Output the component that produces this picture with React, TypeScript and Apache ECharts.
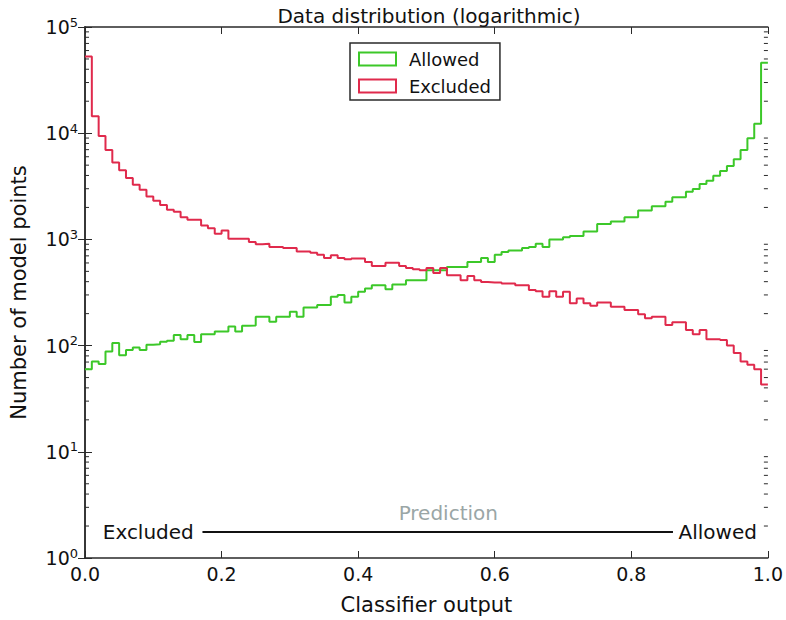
import React, { useEffect, useRef } from "react";
import * as echarts from "echarts";

const binEdges: number[] = Array.from({ length: 101 }, (_, i) => i / 100);

const allowedCounts: number[] = [
  60, 71, 67, 88, 106, 81, 91, 96, 91, 102,
  103, 109, 111, 126, 115, 126, 108, 128, 128, 136,
  136, 151, 136, 154, 155, 187, 187, 168, 187, 187,
  208, 187, 228, 228, 241, 241, 288, 299, 255, 288,
  321, 345, 370, 370, 340, 376, 376, 412, 412, 412,
  512, 512, 512, 550, 550, 550, 612, 612, 668, 612,
  718, 761, 788, 788, 830, 847, 910, 847, 998, 998,
  1050, 1074, 1074, 1186, 1186, 1400, 1400, 1471, 1471, 1618,
  1618, 1867, 1867, 2052, 2052, 2265, 2489, 2489, 2810, 2979,
  3318, 3566, 3966, 4417, 4918, 5690, 6950, 8940, 12280, 46000,
];

const excludedCounts: number[] = [
  52700, 14450, 9390, 6950, 5300, 4490, 3780, 3270, 2930, 2540,
  2310, 2110, 1906, 1825, 1618, 1535, 1535, 1349, 1276, 1128,
  1211, 1014, 1014, 1014, 944, 900, 910, 847, 847, 828,
  828, 771, 771, 750, 718, 668, 708, 668, 649, 660,
  660, 612, 562, 562, 604, 604, 562, 538, 523, 512,
  538, 483, 538, 459, 459, 412, 453, 412, 398, 393,
  393, 384, 384, 370, 370, 333, 325, 288, 325, 288,
  321, 250, 278, 250, 237, 255, 255, 232, 232, 216,
  216, 197, 181, 187, 187, 156, 166, 166, 140, 128,
  140, 115, 115, 113, 100, 85, 71, 66, 60, 43,
];

const xTickLabels: string[] = ["0.0", "0.2", "0.4", "0.6", "0.8", "1.0"];
const seriesNames: string[] = ["Allowed", "Excluded"];

// annotation ("Prediction" arrow) in data coordinates
const predLineX: number[] = [0.172, 0.861];
const predLineY = 1.75;
const predTextY = 2.64;
const excludedTextX = 0.026;
const allowedTextX = 0.984;
const predictionTextX = 0.532;

const GREEN = "#3cc829";
const RED = "#e02a4c";
const AX = "#2a2a2a";
const FONT = "DejaVu Sans";

function stepData(counts: number[]): number[][] {
  const pts = counts.map((c, i) => [binEdges[i], c]);
  pts.push([binEdges[counts.length], counts[counts.length - 1]]);
  return pts;
}

function minorTickValues(): number[][] {
  const out: number[][] = [];
  for (let k = 0; k < 5; k++) {
    for (let m = 2; m <= 9; m++) out.push([0, m * Math.pow(10, k)]);
  }
  return out;
}

export default function App() {
  const ref = useRef<HTMLDivElement>(null);

  useEffect(() => {
    document.body.style.margin = "0";
    const chart = echarts.init(ref.current!, null, { renderer: "svg" });

    const xAxisCommon = {
      type: "value",
      min: 0,
      max: 1,
      interval: 0.2,
      splitLine: { show: false },
      axisLine: { show: true, lineStyle: { color: AX, width: 1.5 } },
      axisTick: { show: true, inside: true, length: 7, lineStyle: { color: AX, width: 1 } },
    };
    const yAxisCommon = {
      type: "log",
      logBase: 10,
      min: 1,
      max: 100000,
      splitLine: { show: false },
      axisLine: { show: true, lineStyle: { color: AX, width: 1.5 } },
      axisTick: { show: true, inside: true, length: 7, lineStyle: { color: AX, width: 1 } },
    };

    chart.setOption({
      animation: false,
      textStyle: { fontFamily: FONT },
      title: {
        text: "Data distribution (logarithmic)",
        left: 424,
        textAlign: "center",
        top: 1,
        textStyle: { fontFamily: FONT, fontSize: 20, fontWeight: "normal", color: "#111" },
      },
      legend: {
        orient: "vertical",
        left: 350,
        top: 43,
        padding: [7, 9, 5, 8],
        borderColor: AX,
        borderWidth: 1.5,
        borderRadius: 0,
        backgroundColor: "#fff",
        itemWidth: 37,
        itemHeight: 13,
        itemGap: 9,
        textStyle: { fontFamily: FONT, fontSize: 18, color: "#111", padding: [0, 0, 0, 8] },
        data: [
          {
            name: seriesNames[0],
            icon: "rect",
            itemStyle: { color: "rgba(0,0,0,0)", borderColor: GREEN, borderWidth: 2 },
          },
          {
            name: seriesNames[1],
            icon: "rect",
            itemStyle: { color: "rgba(0,0,0,0)", borderColor: RED, borderWidth: 2 },
          },
        ],
      },
      grid: { left: 79, right: 17, top: 27, bottom: 59, containLabel: false },
      xAxis: [
        {
          ...xAxisCommon,
          position: "bottom",
          name: "Classifier output",
          nameLocation: "middle",
          nameGap: 36,
          nameTextStyle: { fontFamily: FONT, fontSize: 21, color: "#111" },
          axisLabel: {
            show: true,
            margin: 6,
            fontFamily: FONT,
            fontSize: 19,
            color: "#111",
            formatter: (v: number) => xTickLabels[Math.round(v * 5)] ?? "",
          },
        },
        {
          ...xAxisCommon,
          position: "top",
          axisLabel: { show: false },
        },
      ],
      yAxis: [
        {
          ...yAxisCommon,
          position: "left",
          name: "Number of model points",
          nameLocation: "middle",
          nameGap: 56,
          nameTextStyle: { fontFamily: FONT, fontSize: 21, color: "#111" },
          axisLabel: {
            show: true,
            margin: 7,
            showMinLabel: true,
            showMaxLabel: true,
            color: "#111",
            formatter: (v: number) => "{b|10}{s|" + Math.round(Math.log10(v)) + "}",
            rich: {
              b: { fontFamily: FONT, fontSize: 19, color: "#111" },
              s: { fontFamily: FONT, fontSize: 13, color: "#111", padding: [0, 0, 10, 0] },
            },
          },
        },
        {
          ...yAxisCommon,
          position: "right",
          axisLabel: { show: false },
        },
      ],
      series: [
        {
          name: seriesNames[0],
          type: "line",
          step: "end",
          data: stepData(allowedCounts),
          showSymbol: false,
          symbol: "none",
          lineStyle: { color: GREEN, width: 2 },
          itemStyle: { color: GREEN },
          z: 3,
        },
        {
          name: seriesNames[1],
          type: "line",
          step: "end",
          data: stepData(excludedCounts),
          showSymbol: false,
          symbol: "none",
          lineStyle: { color: RED, width: 2 },
          itemStyle: { color: RED },
          z: 4,
          markLine: {
            silent: true,
            symbol: ["none", "none"],
            lineStyle: { color: "#111", width: 2, type: "solid" },
            label: { show: false },
            data: [
              [
                { coord: [predLineX[0], predLineY] },
                { coord: [predLineX[1], predLineY] },
              ],
            ],
          },
          markPoint: {
            silent: true,
            symbol: "circle",
            symbolSize: 0,
            itemStyle: { color: "rgba(0,0,0,0)" },
            data: [
              {
                coord: [excludedTextX, predLineY],
                value: 0,
                label: {
                  show: true,
                  position: "right",
                  distance: 0,
                  formatter: "Excluded",
                  fontFamily: FONT,
                  fontSize: 20,
                  color: "#111",
                },
              },
              {
                coord: [allowedTextX, predLineY],
                value: 0,
                label: {
                  show: true,
                  position: "left",
                  distance: 0,
                  formatter: "Allowed",
                  fontFamily: FONT,
                  fontSize: 20,
                  color: "#111",
                },
              },
              {
                coord: [predictionTextX, predTextY],
                value: 0,
                label: {
                  show: true,
                  position: "inside",
                  formatter: "Prediction",
                  fontFamily: FONT,
                  fontSize: 20,
                  color: "#9aa6a6",
                },
              },
            ],
          },
        },
        {
          type: "custom",
          silent: true,
          clip: false,
          data: minorTickValues(),
          encode: { x: 0, y: 1 },
          renderItem: (params: any, api: any) => {
            const v = api.value(1);
            const pl = api.coord([0, v]);
            const pr = api.coord([1, v]);
            return {
              type: "group",
              children: [
                {
                  type: "line",
                  shape: { x1: pl[0], y1: pl[1], x2: pl[0] + 4, y2: pl[1] },
                  style: { stroke: AX, lineWidth: 1 },
                },
                {
                  type: "line",
                  shape: { x1: pr[0] - 4, y1: pr[1], x2: pr[0], y2: pr[1] },
                  style: { stroke: AX, lineWidth: 1 },
                },
              ],
            };
          },
        },
      ],
    });

    return () => chart.dispose();
  }, []);

  return (
    <div
      ref={ref}
      style={{ width: 786, height: 620, position: "absolute", left: 0, top: 0, background: "#fff" }}
    />
  );
}
